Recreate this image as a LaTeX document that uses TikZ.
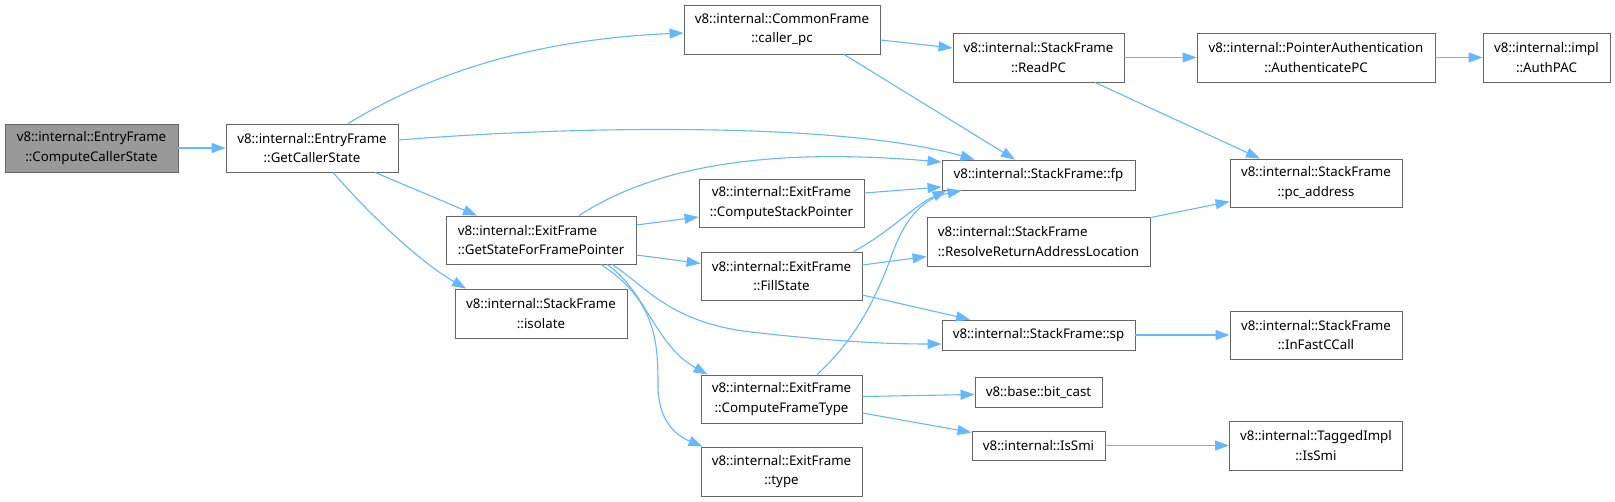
\documentclass[tikz,border=0pt]{standalone}
\usepackage{fontspec}
\setmainfont{Noto Sans}
\usetikzlibrary{arrows.meta,calc}
\definecolor{edgeblue}{HTML}{63B8FF}
\definecolor{nodeborder}{HTML}{666666}
\definecolor{nodegrey}{HTML}{999999}
\begin{document}
\begin{tikzpicture}[x=1pt,y=-1pt,
  fn/.style={draw=nodeborder, line width=0.9pt, fill=white, inner sep=0pt, align=center,
    font=\fontsize{13.3}{19.3}\selectfont},
  cg/.style={draw=edgeblue, line width=1.1pt, -{Triangle[length=14pt,width=10pt]}}]
\useasboundingbox (0,0) rectangle (1615,502);

% nodes
\node[fn, fill=nodegrey, minimum width=173pt, minimum height=48pt] (ccs) at (91.5,148) {v8::internal::EntryFrame\\::ComputeCallerState};
\node[fn, minimum width=172pt, minimum height=48pt] (gcs) at (312,148) {v8::internal::EntryFrame\\::GetCallerState};
\node[fn, minimum width=196pt, minimum height=49pt] (cpc) at (782,29.5) {v8::internal::CommonFrame\\::caller\_pc};
\node[fn, minimum width=171pt, minimum height=49pt] (rpc) at (1038.5,57.5) {v8::internal::StackFrame\\::ReadPC};
\node[fn, minimum width=238pt, minimum height=49pt] (apc) at (1316,57.5) {v8::internal::PointerAuthentication\\::AuthenticatePC};
\node[fn, minimum width=127pt, minimum height=49pt] (pac) at (1546.5,57.5) {v8::internal::impl\\::AuthPAC};
\node[fn, minimum width=193pt, minimum height=30pt] (fp) at (1038.5,175) {v8::internal::StackFrame::fp};
\node[fn, minimum width=172pt, minimum height=48pt] (pca) at (1316,183) {v8::internal::StackFrame\\::pc\_address};
\node[fn, minimum width=165pt, minimum height=48pt] (csp) at (781.5,203) {v8::internal::ExitFrame\\::ComputeStackPointer};
\node[fn, align=left, minimum width=190pt, minimum height=48pt] (gsf) at (541,240) {v8::internal::ExitFrame\\::GetStateForFramePointer};
\node[fn, align=left, minimum width=223pt, minimum height=49pt] (rra) at (1038.5,241.5) {v8::internal::StackFrame\\::ResolveReturnAddressLocation};
\node[fn, minimum width=161pt, minimum height=48pt] (fst) at (781.5,276) {v8::internal::ExitFrame\\::FillState};
\node[fn, minimum width=172pt, minimum height=49pt] (iso) at (541,313.5) {v8::internal::StackFrame\\::isolate};
\node[fn, minimum width=193pt, minimum height=30pt] (sp) at (1038.5,335) {v8::internal::StackFrame::sp};
\node[fn, minimum width=172pt, minimum height=48pt] (ifc) at (1316,335) {v8::internal::StackFrame\\::InFastCCall};
\node[fn, minimum width=161pt, minimum height=48pt] (cft) at (781.5,399) {v8::internal::ExitFrame\\::ComputeFrameType};
\node[fn, minimum width=127pt, minimum height=30pt] (bc) at (1038.5,392) {v8::base::bit\_cast};
\node[fn, minimum width=133pt, minimum height=29pt] (ism) at (1038.5,445.5) {v8::internal::IsSmi};
\node[fn, minimum width=173pt, minimum height=49pt] (tis) at (1316,445.5) {v8::internal::TaggedImpl\\::IsSmi};
\node[fn, minimum width=161pt, minimum height=49pt] (typ) at (781.5,471.5) {v8::internal::ExitFrame\\::type};

% edges
\draw[cg] (ccs) -- (gcs);
\draw[cg] ($(gcs.north)+(36,0)$) .. controls (420,80) and (520,40) .. ($(cpc.west)+(0,3.5)$);
\draw[cg] ($(gcs.east)+(0,-8)$) .. controls (600,124) and (850,124) .. ($(fp.north west)+(33,0)$);
\draw[cg] ($(gcs.south)+(63,0)$) -- ($(gsf.north)+(-64,0)$);
\draw[cg] ($(gcs.south)+(21,0)$) .. controls (370,215) and (420,262) .. ($(iso.north)+(-75,0)$);
\draw[cg] ($(cpc.east)+(0,10.5)$) -- ($(rpc.west)+(0,-9.5)$);
\draw[cg] ($(cpc.south)+(62,0)$) -- ($(fp.north)+(-23.5,0)$);
\draw[cg] (rpc) -- (apc);
\draw[cg] (apc) -- (pac);
\draw[cg] ($(rpc.south)+(56.5,0)$) -- ($(pca.north)+(-56,0)$);
\draw[cg] ($(gsf.north)+(38,0)$) .. controls (640,176) and (740,145) .. ($(fp.west)+(0,-13)$);
\draw[cg] ($(gsf.east)+(0,-15)$) -- ($(csp.west)+(0,14)$);
\draw[cg] ($(gsf.east)+(0,15)$) -- ($(fst.west)+(0,-12.5)$);
\draw[cg] ($(gsf.south)+(71,0)$) .. controls (645,285) and (670,325) .. (760,333) .. controls (840,342) and (890,344) .. ($(sp.west)+(0,9)$);
\draw[cg] ($(gsf.south)+(66,0)$) .. controls (645,290) and (655,345) .. ($(cft.north west)+(7,0)$);
\draw[cg] ($(gsf.south)+(60,0)$) .. controls (655,300) and (658,340) .. (658,385) .. controls (658,420) and (675,435) .. ($(typ.north west)+(2,0)$);
\draw[cg] ($(csp.east)+(0,-10)$) -- ($(fp.west)+(0,12)$);
\draw[cg] ($(fst.north east)+(-9,0)$) .. controls (890,232) and (915,205) .. ($(fp.south west)+(5,0)$);
\draw[cg] ($(fst.east)+(0,-11)$) -- ($(rra.west)+(0,15)$);
\draw[cg] ($(fst.east)+(0,19)$) -- ($(sp.north)+(-68.5,0)$);
\draw[cg] ($(rra.north east)+(0,1)$) -- ($(pca.west)+(0,18.5)$);
\draw[cg] ($(cft.north)+(35.5,0)$) .. controls (855,340) and (875,300) .. (890,260) .. controls (905,215) and (925,198) .. ($(fp.south west)+(20,0)$);
\draw[cg] ($(cft.east)+(0,-2.5)$) -- ($(bc.west)+(0,2.5)$);
\draw[cg] ($(cft.east)+(0,14)$) -- ($(ism.west)+(0,-13)$);
\draw[cg] (sp) -- (ifc);
\draw[cg] (ism) -- (tis);
\end{tikzpicture}
\end{document}
